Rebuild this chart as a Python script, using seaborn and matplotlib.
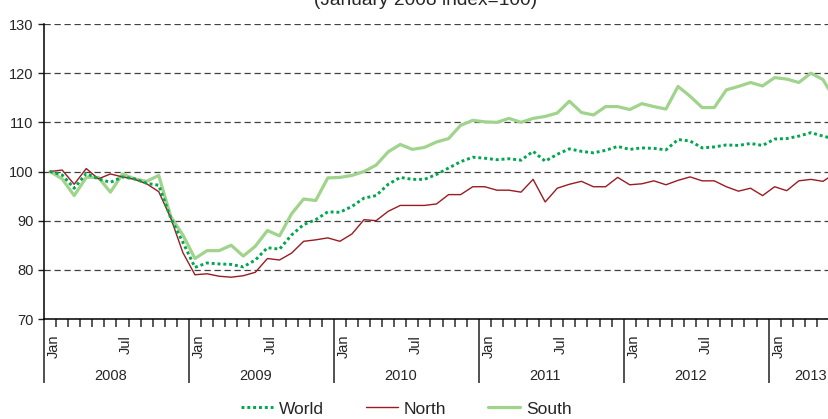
import numpy as np
import pandas as pd
import matplotlib
matplotlib.use("Agg")
import matplotlib.pyplot as plt
import seaborn as sns

# Indice mensual (enero 2008 = 100), ene-2008 .. jun-2013
north = [100.0, 100.3, 97.4, 100.6, 98.5, 99.5, 98.9, 98.4, 97.5, 95.9, 90.5, 83.5,
         79.0, 79.2, 78.7, 78.5, 78.8, 79.5, 82.3, 82.0, 83.4, 85.8, 86.1, 86.5,
         85.8, 87.3, 90.2, 90.0, 91.9, 93.1, 93.1, 93.1, 93.4, 95.3, 95.3, 96.9,
         96.9, 96.2, 96.2, 95.8, 98.4, 93.8, 96.6, 97.4, 98.0, 96.9, 96.9, 98.8,
         97.3, 97.5, 98.1, 97.3, 98.2, 98.9, 98.1, 98.1, 96.9, 96.0, 96.6, 95.1,
         96.9, 96.1, 98.1, 98.4, 98.0, 99.6]
world = [100.0, 99.3, 96.6, 99.6, 98.5, 97.8, 98.9, 98.5, 97.6, 97.2, 90.5, 85.6,
         80.5, 81.4, 81.2, 81.1, 80.6, 82.0, 84.5, 84.2, 87.1, 89.2, 90.2, 91.8,
         91.7, 92.9, 94.6, 95.1, 97.4, 98.8, 98.4, 98.4, 99.4, 100.7, 102.0, 102.9,
         102.7, 102.4, 102.6, 102.3, 104.1, 102.1, 103.5, 104.6, 104.1, 103.8, 104.3, 105.1,
         104.5, 104.8, 104.7, 104.4, 106.5, 106.2, 104.8, 105.0, 105.4, 105.3, 105.7, 105.3,
         106.6, 106.7, 107.2, 107.9, 107.2, 106.6]
south = [100.0, 98.5, 95.1, 98.8, 98.8, 95.8, 99.5, 98.5, 98.0, 99.2, 90.8, 87.1,
         82.3, 83.9, 83.9, 85.0, 82.8, 84.8, 88.0, 86.9, 91.4, 94.4, 94.1, 98.7,
         98.8, 99.2, 100.0, 101.3, 104.0, 105.5, 104.5, 104.9, 106.0, 106.7, 109.4, 110.4,
         110.1, 110.0, 110.8, 110.0, 110.8, 111.2, 111.9, 114.3, 112.0, 111.5, 113.2, 113.2,
         112.6, 113.8, 113.2, 112.7, 117.3, 115.3, 113.0, 113.0, 116.6, 117.3, 118.1, 117.4,
         119.1, 118.8, 118.1, 120.0, 118.7, 114.6]
years = ['2008', '2009', '2010', '2011', '2012', '2013']
month_labels = ['Jan', 'Jul']
title = '(January 2008 index=100)'

months = np.arange(len(north))
df = pd.DataFrame({'month': months, 'World': world, 'North': north, 'South': south})

sns.set_style("white")
plt.rcParams['font.family'] = ['Liberation Sans', 'DejaVu Sans']

fig = plt.figure(figsize=(8.29, 4.19), dpi=100)
ax = fig.add_axes([44 / 829, 100 / 419, 785 / 829, 295 / 419])

# lineas
sns.lineplot(data=df, x='month', y='South', ax=ax, color='#a0d48c', linewidth=2.3, label='South')
sns.lineplot(data=df, x='month', y='North', ax=ax, color='#9b1b22', linewidth=1.0, label='North')
sns.lineplot(data=df, x='month', y='World', ax=ax, color='#00a650', linewidth=2.1,
             linestyle=(0, (1, 1)), label='World')

ax.set_xlim(-0.5, 64.5)
ax.set_ylim(70, 130)
ax.set_yticks(range(70, 131, 10))
ax.tick_params(axis='y', length=4, width=1, color='#222222', pad=3.5, labelsize=10.5, left=True)
ax.yaxis.grid(True, linestyle=(0, (5, 3)), color='#404040', linewidth=0.9)
ax.set_axisbelow(True)

# ticks del eje x: limites de mes y de año
ax.set_xticks([12 * k - 0.5 for k in range(len(years))])
ax.set_xticks([m + 0.5 for m in range(65) if (m + 1) % 12 != 0], minor=True)
ax.tick_params(axis='x', which='major', length=46, width=1.1, color='#222222', labelbottom=False, bottom=True)
ax.tick_params(axis='x', which='minor', length=6, width=1.1, color='#2a2a2a', bottom=True)
ax.set_xlabel('')
ax.set_ylabel('')

for s in ['top', 'right']:
    ax.spines[s].set_visible(False)
for s in ['left', 'bottom']:
    ax.spines[s].set_color('black')
    ax.spines[s].set_linewidth(1.1)

trans = ax.get_xaxis_transform()
for m in months:
    if m % 6 == 0 and m < 65:
        ax.text(m + 0.3, -0.054, month_labels[(m // 6) % 2], transform=trans, rotation=90,
                ha='center', va='top', fontsize=10.5)
for k, y in enumerate(years):
    xpos = 12 * k + 5 if k < 5 else 63
    ax.text(xpos, -0.193, y, transform=trans, ha='center', va='center', fontsize=10.5)

fig.text(0.513, 1 - 5 / 419, title, ha='center', va='baseline', fontsize=13.8)

handles, labels = ax.get_legend_handles_labels()
order = [labels.index(n) for n in ['World', 'North', 'South']]
ax.legend([handles[i] for i in order], [labels[i] for i in order], loc='center',
          bbox_to_anchor=(0.49, 0.024), bbox_transform=fig.transFigure, ncol=3, frameon=False,
          fontsize=12.5, handlelength=1.85, handletextpad=0.35, columnspacing=2.4)

fig.savefig('out.png', dpi=100)
